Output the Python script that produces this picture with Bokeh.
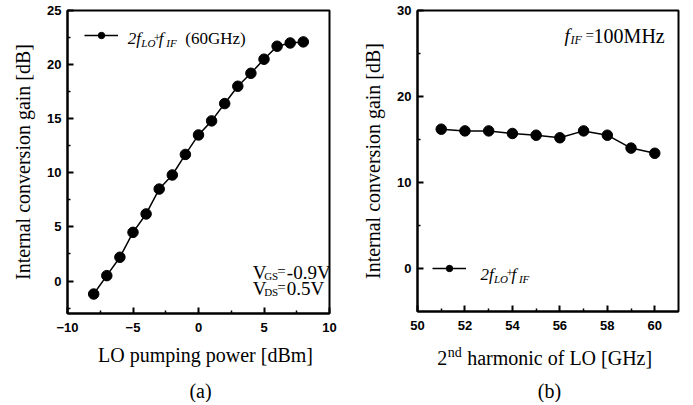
from bokeh.plotting import figure
from bokeh.layouts import row, column
from bokeh.models import FixedTicker, Label, Legend, LegendItem, Range1d
from bokeh.core.properties import value
from bokeh.embed import file_html
from bokeh.resources import INLINE

# ---------------- data ----------------
lo_power_dbm = [-8, -7, -6, -5, -4, -3, -2, -1, 0, 1, 2, 3, 4, 5, 6, 7, 8]
gain_vs_power = [-1.2, 0.5, 2.2, 4.5, 6.2, 8.5, 9.8, 11.7, 13.5, 14.8, 16.4,
                 18.0, 19.2, 20.5, 21.7, 22.0, 22.1]

lo2_freq_ghz = [51, 52, 53, 54, 55, 56, 57, 58, 59, 60]
gain_vs_freq = [16.2, 16.0, 16.0, 15.7, 15.5, 15.2, 16.0, 15.5, 14.0, 13.4]

a_xticks = [-10, -5, 0, 5, 10]
a_xminor = [-7.5, -2.5, 2.5, 7.5]
a_yticks = [0, 5, 10, 15, 20, 25]
a_yminor = [-2.5, 2.5, 7.5, 12.5, 17.5, 22.5]
b_xticks = [50, 52, 54, 56, 58, 60]
b_xminor = [51, 53, 55, 57, 59]
b_yticks = [0, 10, 20, 30]
b_yminor = [5, 15, 25]

SERIF = "Liberation Serif"
SANS = "Liberation Sans"


def style(p, xt, xm, yt, ym):
    p.outline_line_color = "black"
    p.outline_line_width = 2
    p.xgrid.visible = False
    p.ygrid.visible = False
    p.xaxis.ticker = FixedTicker(ticks=xt, minor_ticks=xm)
    p.yaxis.ticker = FixedTicker(ticks=yt, minor_ticks=ym)
    for ax in (p.xaxis[0], p.yaxis[0]):
        ax.axis_line_width = 2
        ax.axis_line_color = "black"
        ax.major_tick_in = 6
        ax.major_tick_out = 0
        ax.minor_tick_in = 3
        ax.minor_tick_out = 0
        ax.major_tick_line_width = 2
        ax.minor_tick_line_width = 1.5
        ax.major_label_text_font = SANS
        ax.major_label_text_font_style = "bold"
        ax.major_label_text_font_size = "13px"
        ax.major_label_text_color = "black"
        ax.axis_label_text_font = SERIF
        ax.axis_label_text_font_style = "normal"
        ax.axis_label_text_font_size = "20px"
        ax.axis_label_text_color = "black"
        ax.major_label_standoff = 6
        ax.axis_label_standoff = 10
    p.xaxis.major_label_standoff = 9


def piece(p, x, y, text, dx=0, dy=0, size="17px", style_="normal",
          baseline="alphabetic", align="left"):
    p.add_layout(Label(x=x, y=y, text=text, x_offset=dx, y_offset=dy,
                       text_font=SERIF, text_font_size=size,
                       text_font_style=style_, text_color="black",
                       text_baseline=baseline, text_align=align))


def caption_fig(w, h, left, right):
    # the column aligns this frame with the panel's frame, so the x range
    # is expressed in the panel's own pixel columns (left .. right)
    c = figure(width=w, height=h, output_backend="svg", toolbar_location=None,
               x_range=Range1d(left, right), y_range=Range1d(0, h),
               x_axis_location=None, y_axis_location=None,
               min_border_left=left, min_border_right=w - right,
               min_border_top=0, min_border_bottom=0)
    c.outline_line_color = None
    c.xgrid.visible = False
    c.ygrid.visible = False
    return c


# ---------------- panel (a) ----------------
WA, WB = 345, 340
HA, HB = 343, 341
TOTAL_H = 402

pa = figure(width=WA, height=HA, output_backend="svg", toolbar_location=None,
            x_range=Range1d(-10, 10), y_range=Range1d(-3, 25),
            min_border_left=67, min_border_right=16, min_border_top=10,
            min_border_bottom=30)
style(pa, a_xticks, a_xminor, a_yticks, a_yminor)
pa.yaxis.axis_label = "Internal conversion gain [dB]"

la = pa.line(lo_power_dbm, gain_vs_power, line_color="black", line_width=1.5)
sa = pa.scatter(lo_power_dbm, gain_vs_power, size=10.5, marker="circle",
                fill_color="black", line_color="black")
leg_a = Legend(items=[LegendItem(label=value(" "), renderers=[la, sa])],
               location="top_left", margin=12, padding=5, glyph_width=34,
               glyph_height=16, label_height=16, label_width=4,
               label_text_font_size="8px", background_fill_alpha=0,
               border_line_alpha=0)
pa.add_layout(leg_a)

# legend text: 2f_LO+f_IF (60GHz)
lx, ly = -5.4, 22.39
piece(pa, lx, ly, "2f", 0, 0, "17px", "italic")
piece(pa, lx, ly, "LO", 13.5, -4.5, "11px", "italic")
piece(pa, lx, ly, "+", 26, 1, "12px")
piece(pa, lx, ly, "f", 31, 0, "17px", "italic")
piece(pa, lx, ly, "IF", 38.5, -4.5, "11px", "italic")
piece(pa, lx, ly, "(60GHz)", 57.5, 0, "17px")

# V_GS / V_DS
vx = 4.15
for vy, sub, rest in ((0.82, "GS", "-0.9V"), (-0.66, "DS", "0.5V")):
    piece(pa, vx, vy, "V", 0, 0, "19px")
    piece(pa, vx, vy, sub, 11.3, -4, "11px")
    piece(pa, vx, vy, "=", 24.5, 1, "15px")
    piece(pa, vx, vy, rest, 34, 0, "19px")

ca = caption_fig(WA, TOTAL_H - HA, 67, 329)
piece(ca, 205, 47.5, "LO pumping power [dBm]", 0, 0, "20px", align="center")
piece(ca, 200, 12, "(a)", 0, 0, "20px", baseline="middle", align="center")

# ---------------- panel (b) ----------------
pb = figure(width=WB, height=HB, output_backend="svg", toolbar_location=None,
            x_range=Range1d(50, 61), y_range=Range1d(-5, 30),
            min_border_left=72, min_border_right=7, min_border_top=10,
            min_border_bottom=30)
style(pb, b_xticks, b_xminor, b_yticks, b_yminor)
pb.yaxis.axis_label = "Internal conversion gain [dB]"

lb = pb.line(lo2_freq_ghz, gain_vs_freq, line_color="black", line_width=1.5)
sb = pb.scatter(lo2_freq_ghz, gain_vs_freq, size=10.5, marker="circle",
                fill_color="black", line_color="black")
leg_b = Legend(items=[LegendItem(label=value(" "), renderers=[lb, sb])],
               location=(10, 30), margin=0, padding=5, glyph_width=34,
               glyph_height=16, label_height=16, label_width=4,
               label_text_font_size="8px", background_fill_alpha=0,
               border_line_alpha=0)
pb.add_layout(leg_b)

bx, by = 52.65, -0.65
piece(pb, bx, by, "2f", 0, 0, "17px", "italic")
piece(pb, bx, by, "LO", 13.5, -4.5, "11px", "italic")
piece(pb, bx, by, "+", 26, 1, "12px")
piece(pb, bx, by, "f", 31, 0, "17px", "italic")
piece(pb, bx, by, "IF", 38.5, -4.5, "11px", "italic")

# f_IF = 100MHz
fx, fy = 56.2, 27.09
piece(pb, fx, fy, "f", 0, 0, "19px", "italic")
piece(pb, fx, fy, "IF", 6, -4.5, "12px", "italic")
piece(pb, fx, fy, "=", 21, 1, "15px")
piece(pb, fx, fy, "100MHz", 29, 0, "20px")

cb = caption_fig(WB, TOTAL_H - HB, 72, 333)
piece(cb, 91.7, 44.5, "2", 0, 0, "20px")
piece(cb, 91.7, 44.5, "nd", 10.6, 6, "14px")
piece(cb, 91.7, 44.5, "harmonic of LO [GHz]", 30, 0, "20px")
piece(cb, 204, 12, "(b)", 0, 0, "20px", baseline="middle", align="center")

layout = row(column(pa, ca), column(pb, cb))
open("out.html", "w").write(file_html(layout, INLINE))
